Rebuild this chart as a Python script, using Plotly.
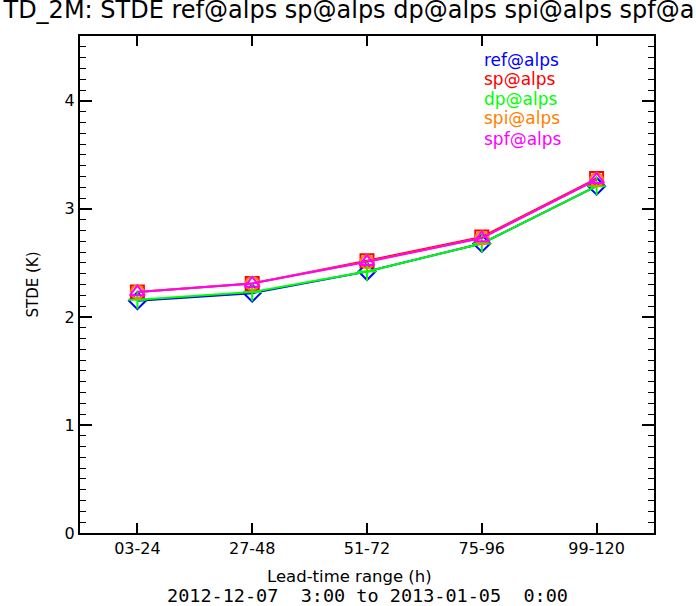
import plotly.graph_objects as go

categories = ["03-24", "27-48", "51-72", "75-96", "99-120"]
ref_vals = [2.15, 2.22, 2.42, 2.68, 3.21]
sp_vals = [2.23, 2.31, 2.52, 2.74, 3.28]
dp_vals = [2.16, 2.23, 2.42, 2.68, 3.21]
spi_vals = [2.23, 2.31, 2.51, 2.73, 3.27]
spf_vals = [2.23, 2.31, 2.51, 2.73, 3.27]
series_names = ["ref@alps", "sp@alps", "dp@alps", "spi@alps", "spf@alps"]
series_colors = ["#0000ff", "#ff0000", "#00ff00", "#ff8000", "#ff00ff"]
series_symbols = ["diamond-open", "square-open", "cross-thin-open", "circle-open", "triangle-up-open"]
series_values = [ref_vals, sp_vals, dp_vals, spi_vals, spf_vals]

FONT = "DejaVu Sans"
MONO = "DejaVu Sans Mono"
NB = "\u00a0"
xs = list(range(len(categories)))

fig = go.Figure()
for name, vals, col, sym in zip(series_names, series_values, series_colors, series_symbols):
    fig.add_trace(go.Scatter(
        x=xs, y=vals, mode="lines+markers", name=name,
        line=dict(color=col, width=2),
        marker=dict(symbol=sym, size=13, color=col, line=dict(color=col, width=2)),
        showlegend=False,
    ))

# legend as coloured text
leg_y = [0.952, 0.913, 0.873, 0.835, 0.793]
for name, col, yy in zip(series_names, series_colors, leg_y):
    fig.add_annotation(x=0.701, y=yy, xref="paper", yref="paper", text=name,
                       showarrow=False, xanchor="left", yanchor="middle",
                       font=dict(family=FONT, size=17, color=col))

fig.add_annotation(x=0.47, y=-0.088, xref="paper", yref="paper", text="Lead-time range (h)",
                   showarrow=False, xanchor="center", yanchor="middle",
                   font=dict(family=FONT, size=16.5, color="black"))
fig.add_annotation(x=0.5, y=-0.125, xref="paper", yref="paper",
                   text="2012-12-07" + NB * 2 + "3:00 to 2013-01-05" + NB * 2 + "0:00",
                   showarrow=False, xanchor="center", yanchor="middle",
                   font=dict(family=MONO, size=18.5, color="black"))

fig.update_layout(
    width=696, height=606,
    margin=dict(l=80, r=42, t=36, b=73),
    paper_bgcolor="white", plot_bgcolor="white",
    title=dict(text="TD_2M: STDE ref@alps sp@alps dp@alps spi@alps spf@alps",
               x=0.005, xanchor="left", y=0.998, yanchor="top",
               font=dict(family=FONT, size=24, color="black")),
    font=dict(family=FONT, size=15, color="black"),
    xaxis=dict(
        range=[-0.5, 4.5], tickmode="array", tickvals=xs, ticktext=categories,
        showgrid=False, zeroline=False, showline=True, linecolor="black", linewidth=2,
        mirror="ticks", ticks="inside", ticklen=10, tickwidth=1.5, tickcolor="black",
        tickfont=dict(family=FONT, size=16, color="black"),
    ),
    yaxis=dict(
        range=[0, 4.6], tickmode="array", tickvals=[0, 1, 2, 3, 4],
        showgrid=False, zeroline=False, showline=True, linecolor="black", linewidth=2,
        mirror="ticks", ticks="inside", ticklen=12, tickwidth=1.5, tickcolor="black",
        tickfont=dict(family=FONT, size=16, color="black"),
        minor=dict(dtick=0.1, tick0=0, ticks="inside", ticklen=6, tickwidth=1.2, tickcolor="black", showgrid=False),
        title=dict(text="STDE (K)", font=dict(family=FONT, size=15, color="black"), standoff=22),
    ),
)

fig.write_html("out.html", config={"displayModeBar": False},
               post_script="document.body.style.margin='0';")
